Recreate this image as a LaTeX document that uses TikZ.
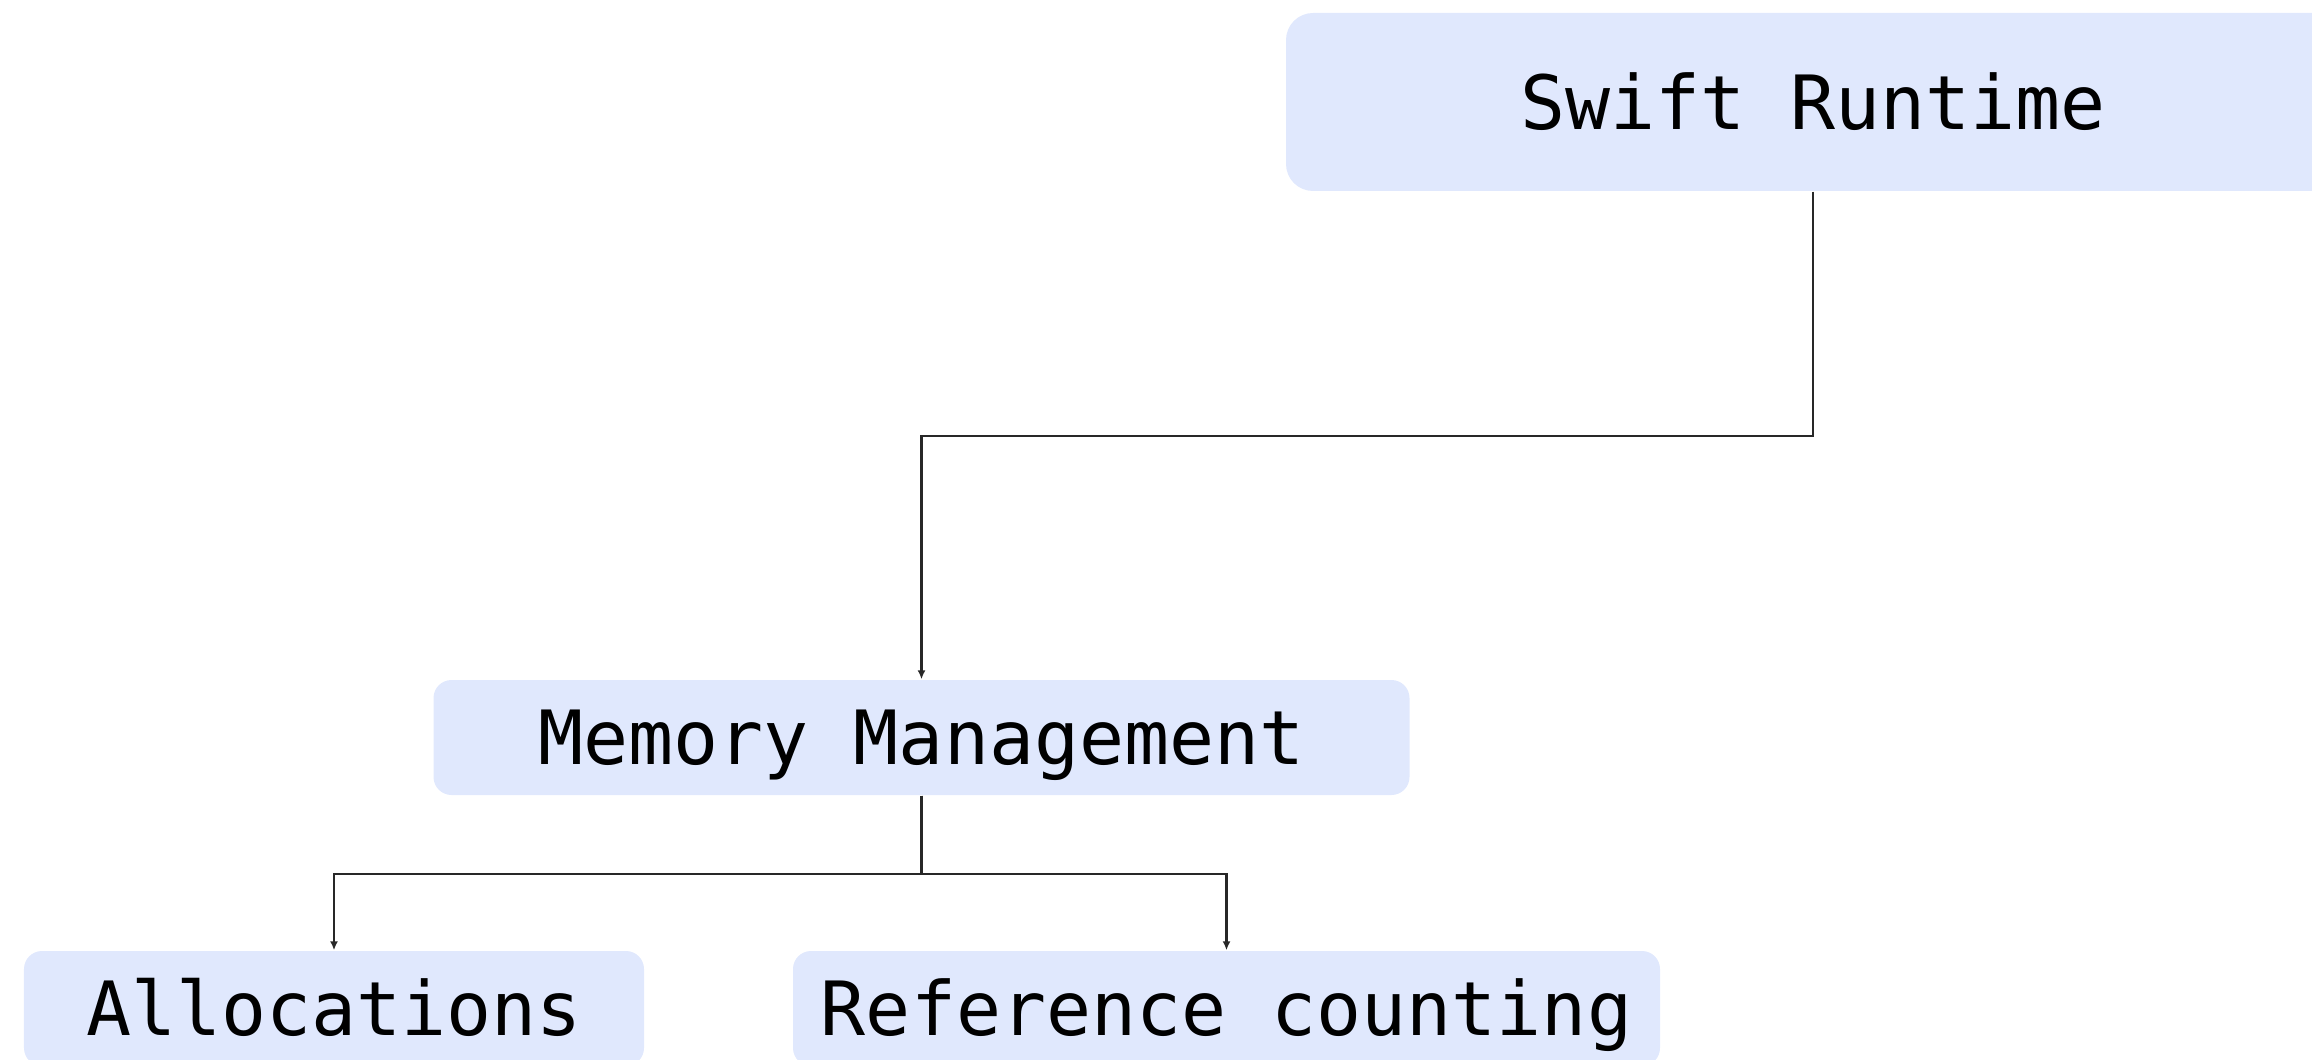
\documentclass[tikz,border=0pt]{standalone}
\usepackage{fontspec}
\setmonofont{DejaVu Sans Mono}
\usepackage{tikz}
\usetikzlibrary{arrows.meta,positioning}
\definecolor{modfill}{RGB}{224,232,253}
\definecolor{linkgray}{RGB}{40,40,40}

\begin{document}
\begin{tikzpicture}[
  every node/.style={font=\ttfamily\fontsize{21.3pt}{26pt}\selectfont},
  module/.style={fill=modfill, rounded corners=0.18cm, minimum height=1.15cm,
                 inner sep=0pt, text height=15.5pt, text depth=0pt, align=center},
  link/.style={-{Latex[length=0.09cm, width=0.08cm]}, line width=0.6pt, linkgray},
]
\useasboundingbox (0,0) rectangle (23.12,-10.6);

%% -- Modules -----------------------------------------------------------------
\node[module, minimum width=10.54cm, minimum height=1.78cm, rounded corners=0.27cm]
      (runtime) at (18.13,-1.02)   {Swift Runtime};
\node[module, minimum width=9.76cm]  (memory)   at (9.215,-7.375) {Memory Management};
\node[module, minimum width=6.2cm]   (alloc)    at (3.34,-10.085) {Allocations};
\node[module, minimum width=8.67cm]  (refcount) at (12.265,-10.085) {Reference counting};

%% -- Links -------------------------------------------------------------------
\draw[link] (runtime.south) -- ++(0,-2.44) -| (memory.north);

\draw[link] (memory.south) -- ++(0,-0.78) -| (alloc.north);
\draw[link] (memory.south) -- ++(0,-0.78) -| (refcount.north);

\end{tikzpicture}
\end{document}
